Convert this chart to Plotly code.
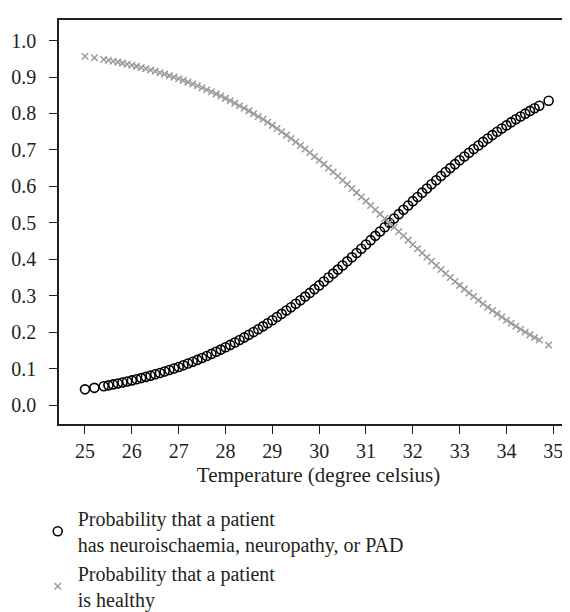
import plotly.graph_objects as go

temperature = [25.0, 25.2, 25.4, 25.5, 25.6, 25.7, 25.8, 25.9,
               26.0, 26.1, 26.2, 26.3, 26.4, 26.5, 26.6, 26.7, 26.8, 26.9,
               27.0, 27.1, 27.2, 27.3, 27.4, 27.5, 27.6, 27.7, 27.8, 27.9,
               28.0, 28.1, 28.2, 28.3, 28.4, 28.5, 28.6, 28.7, 28.8, 28.9,
               29.0, 29.1, 29.2, 29.3, 29.4, 29.5, 29.6, 29.7, 29.8, 29.9,
               30.0, 30.1, 30.2, 30.3, 30.4, 30.5, 30.6, 30.7, 30.8, 30.9,
               31.0, 31.1, 31.2, 31.3, 31.4, 31.5, 31.6, 31.7, 31.8, 31.9,
               32.0, 32.1, 32.2, 32.3, 32.4, 32.5, 32.6, 32.7, 32.8, 32.9,
               33.0, 33.1, 33.2, 33.3, 33.4, 33.5, 33.6, 33.7, 33.8, 33.9,
               34.0, 34.1, 34.2, 34.3, 34.4, 34.5, 34.6, 34.7, 34.9]

p_disease = [0.0431, 0.0472, 0.0517, 0.0541, 0.0566, 0.0591, 0.0619, 0.0647,
             0.0676, 0.0707, 0.0739, 0.0773, 0.0807, 0.0843, 0.0881, 0.0920, 0.0961, 0.1003,
             0.1046, 0.1092, 0.1139, 0.1189, 0.1239, 0.1292, 0.1347, 0.1403, 0.1462, 0.1522,
             0.1585, 0.1650, 0.1716, 0.1786, 0.1856, 0.1929, 0.2005, 0.2081, 0.2160, 0.2243,
             0.2327, 0.2414, 0.2502, 0.2593, 0.2685, 0.2780, 0.2877, 0.2976, 0.3077, 0.3180,
             0.3283, 0.3390, 0.3498, 0.3607, 0.3717, 0.3830, 0.3943, 0.4057, 0.4172, 0.4290,
             0.4405, 0.4525, 0.4643, 0.4762, 0.4880, 0.5000, 0.5120, 0.5238, 0.5357, 0.5475,
             0.5595, 0.5710, 0.5828, 0.5943, 0.6057, 0.6170, 0.6283, 0.6393, 0.6502, 0.6610,
             0.6717, 0.6820, 0.6923, 0.7024, 0.7123, 0.7220, 0.7315, 0.7407, 0.7498, 0.7586,
             0.7673, 0.7757, 0.7840, 0.7919, 0.7995, 0.8071, 0.8144, 0.8214, 0.8350]

p_healthy = [0.9569, 0.9528, 0.9483, 0.9459, 0.9434, 0.9409, 0.9381, 0.9353,
             0.9324, 0.9293, 0.9261, 0.9227, 0.9193, 0.9157, 0.9119, 0.9080, 0.9039, 0.8997,
             0.8954, 0.8908, 0.8861, 0.8811, 0.8761, 0.8708, 0.8653, 0.8597, 0.8538, 0.8478,
             0.8415, 0.8350, 0.8284, 0.8214, 0.8144, 0.8071, 0.7995, 0.7919, 0.7840, 0.7757,
             0.7673, 0.7586, 0.7498, 0.7407, 0.7315, 0.7220, 0.7123, 0.7024, 0.6923, 0.6820,
             0.6717, 0.6610, 0.6502, 0.6393, 0.6283, 0.6170, 0.6057, 0.5943, 0.5828, 0.5710,
             0.5595, 0.5475, 0.5357, 0.5238, 0.5120, 0.5000, 0.4880, 0.4762, 0.4643, 0.4525,
             0.4405, 0.4290, 0.4172, 0.4057, 0.3943, 0.3830, 0.3717, 0.3607, 0.3498, 0.3390,
             0.3283, 0.3180, 0.3077, 0.2976, 0.2877, 0.2780, 0.2685, 0.2593, 0.2502, 0.2414,
             0.2327, 0.2243, 0.2160, 0.2081, 0.2005, 0.1929, 0.1856, 0.1786, 0.1650]

x_ticks = [25, 26, 27, 28, 29, 30, 31, 32, 33, 34, 35]
y_ticks = [0.0, 0.1, 0.2, 0.3, 0.4, 0.5, 0.6, 0.7, 0.8, 0.9, 1.0]

label_disease = "Probability that a patient<br>has neuroischaemia, neuropathy, or PAD"
label_healthy = "Probability that a patient<br>is healthy"
x_title = "Temperature (degree celsius)"

FONT = "Liberation Serif"
TEXT = "#231f20"

fig = go.Figure()
fig.add_trace(go.Scatter(
    x=temperature, y=p_disease, mode="markers", name=label_disease,
    marker=dict(symbol="circle-open", size=9, color="black", line=dict(width=1.6, color="black")),
))
fig.add_trace(go.Scatter(
    x=temperature, y=p_healthy, mode="markers", name=label_healthy,
    marker=dict(symbol="x-thin-open", size=6.5, color="#9a9a9a", line=dict(width=1.5, color="#9a9a9a")),
))

fig.update_layout(
    width=570, height=612,
    margin=dict(l=51, r=0, t=12, b=196),
    paper_bgcolor="white", plot_bgcolor="white",
    font=dict(family=FONT, size=20, color=TEXT),
    showlegend=True,
    legend=dict(
        x=-0.041, y=-0.185, xanchor="left", yanchor="top",
        font=dict(family=FONT, size=20, color=TEXT),
        tracegroupgap=17, itemsizing="trace", bgcolor="rgba(0,0,0,0)",
    ),
    xaxis=dict(
        range=[24.445, 35.527], tickmode="array", tickvals=x_ticks,
        ticktext=[str(v) for v in x_ticks],
        showline=True, linecolor="#231f20", linewidth=1.5, mirror=True,
        ticks="outside", ticklen=8, tickwidth=1.3, tickcolor="#231f20",
        showgrid=False, zeroline=False,
        title=dict(text=x_title, standoff=7, font=dict(size=21)),
        tickfont=dict(size=20),
    ),
    yaxis=dict(
        range=[-0.052, 1.0565], tickmode="array", tickvals=y_ticks,
        ticktext=[f"{v:.1f}" for v in y_ticks],
        showline=True, linecolor="#231f20", linewidth=1.5, mirror=False,
        ticks="outside", ticklen=8, tickwidth=1.3, tickcolor="#231f20",
        showgrid=False, zeroline=False, ticklabelstandoff=9,
        tickfont=dict(size=20),
    ),
)

fig.write_html("out.html")
